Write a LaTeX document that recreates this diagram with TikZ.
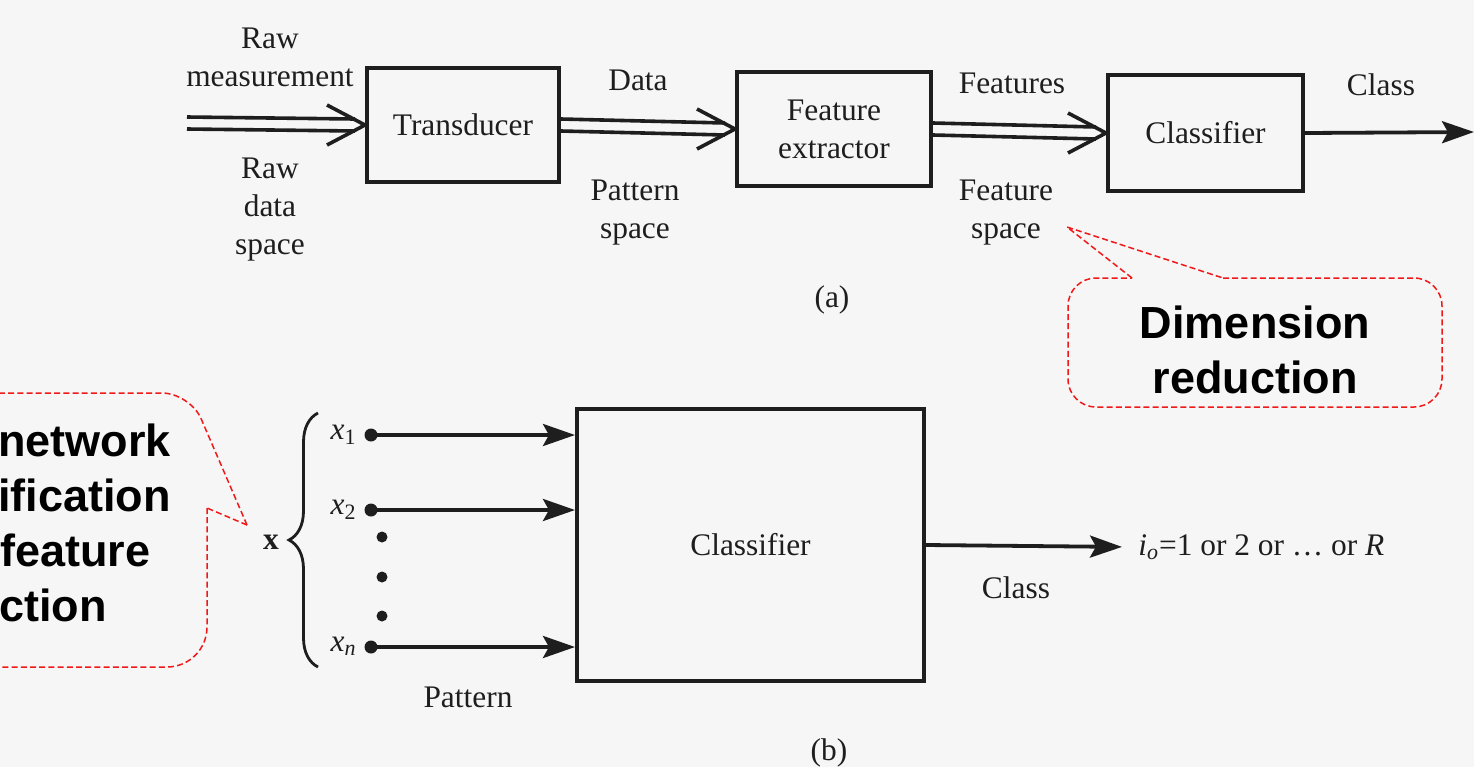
\documentclass[tikz,border=0pt]{standalone}
\usepackage{fontspec}
\setmainfont{Liberation Serif}
\newfontfamily\callfont{Liberation Sans}
\usetikzlibrary{calc,arrows.meta,decorations.pathreplacing}
\definecolor{ink}{HTML}{1E1E1E}
\definecolor{paper}{HTML}{F6F6F6}
\definecolor{callred}{HTML}{F01818}
\tikzset{
  lbl/.style={font=\fontsize{15.7}{19}\selectfont, text=ink, align=center, inner sep=0pt},
  blk/.style={draw=ink, line width=2pt, font=\fontsize{15.7}{19}\selectfont, text=ink, align=center},
  arr/.style={draw=ink, line width=1.9pt, -{Stealth[length=16pt,width=11pt,inset=3pt]}},
  dblline/.style={draw=ink, line width=1.8pt},
  callout/.style={draw=callred, line width=0.75pt, dash pattern=on 3pt off 1.6pt},
  calltext/.style={font=\callfont\bfseries\fontsize{22.5}{27.5}\selectfont, text=black, inner sep=0pt, align=center},
  pdot/.style={circle, fill=ink, inner sep=0pt, minimum size=6.5pt},
  vdot/.style={circle, fill=ink, inner sep=0pt, minimum size=5.5pt},
  bracestyle/.style={draw=ink, line width=1.4pt, decorate, decoration={brace, amplitude=14.5pt}}
}
\newcommand\dblarrow[2]{%
  \draw[dblline] ($(#1)+(0,-6)$) -- ($(#2)+(-10,-6)$);
  \draw[dblline] ($(#1)+(0,6)$) -- ($(#2)+(-10,6)$);
  \draw[dblline, line join=miter] ($(#2)+(-38,-20)$) -- (#2) -- ($(#2)+(-38,20)$);}
\begin{document}
\begin{tikzpicture}[x=0.5pt, y=-0.5pt]
\path[fill=paper, use as bounding box] (0,0) rectangle (1474,767);

% ---------- (a) ----------
\node[lbl] (rawtop) at (270,57) {Raw\\measurement};
\node[lbl] (rawbot) at (270,210) {Raw\\data\\space};
\coordinate (rawin) at (187,123);
\node[blk, minimum width=96pt, minimum height=57pt] (trans) at (463,125) {Transducer};
\node[lbl] (datal) at (638,80) {Data};
\node[lbl] (patsp) at (635,213) {Pattern\\space};
\node[blk, minimum width=97pt, minimum height=57pt] (fe) at (834,129) {Feature\\extractor};
\node[lbl] (featl) at (1012,83) {Features};
\node[lbl] (featsp) at (1006,213) {Feature\\space};
\node[blk, minimum width=97.5pt, minimum height=58pt] (clf) at (1205.5,133) {Classifier};
\node[lbl] (classl) at (1381,85) {Class};
\coordinate (clsout) at (1474,132);
\node[lbl] (capa) at (832,300) {(a)};

\dblarrow{rawin}{trans.west}
\dblarrow{trans.east}{fe.west}
\dblarrow{fe.east}{clf.west}
\draw[arr] (clf.east) -- (clsout);

% callout: Dimension reduction
\node[calltext] (dimtext) at (1255,350) {Dimension\\reduction};
\draw[callout] (1132,278) -- (1067,227) -- (1223,278);
\draw[callout, rounded corners=14pt] (1223,278) -- (1442,278) -- (1442,407) -- (1068,407) -- (1068,278) -- (1132,278);

% ---------- (b) ----------
\node[calltext, anchor=west] (ct1) at (-2,440) {network};
\node[calltext, anchor=west] (ct2) at (-2,495) {ification};
\node[calltext, anchor=west] (ct3) at (0,550) {feature};
\node[calltext, anchor=west] (ct4) at (-1,605) {ction};
\draw[callout, rounded corners=14pt] (247,525) -- (190,393) -- (-20,393);
\draw[callout] (247,525) -- (207,508);
\draw[callout, rounded corners=20pt] (207,508) -- (207,667) -- (-20,667);

\node[lbl] (xbold) at (271,542) {\textbf{x}};
\draw[bracestyle] (318,667) -- (318,413);
\node[lbl, anchor=mid east] (x1) at (357,435) {\textit{x}\textsubscript{1}};
\node[lbl, anchor=mid east] (x2) at (357,510) {\textit{x}\textsubscript{2}};
\node[lbl, anchor=mid east] (xn) at (357,647) {\textit{x}\textsubscript{\textit{n}}};
\node[pdot] (p1) at (371,435) {};
\node[pdot] (p2) at (371,510) {};
\node[pdot] (pn) at (371,647) {};
\node[vdot] (v1) at (382,537) {};
\node[vdot] (v2) at (382,577) {};
\node[vdot] (v3) at (382,616) {};
\node[blk, minimum width=173.5pt, minimum height=136pt] (bclf) at (750.5,545) {Classifier};
\draw[arr] (p1.center) -- (bclf.west |- p1);
\draw[arr] (p2.center) -- (bclf.west |- p2);
\draw[arr] (pn.center) -- (bclf.west |- pn);
\node[lbl, anchor=west, inner sep=3pt] (io) at (1132,547) {\textit{i}\textsubscript{\textit{o}}=1 or 2 or \dots\ or \textit{R}};
\draw[arr, shorten >=5pt] (bclf.east) -- (io.west);
\node[lbl] (bclass) at (1016,588) {Class};
\node[lbl] (pat) at (468,697) {Pattern};
\node[lbl] (capb) at (829,753) {(b)};
\end{tikzpicture}
\end{document}
